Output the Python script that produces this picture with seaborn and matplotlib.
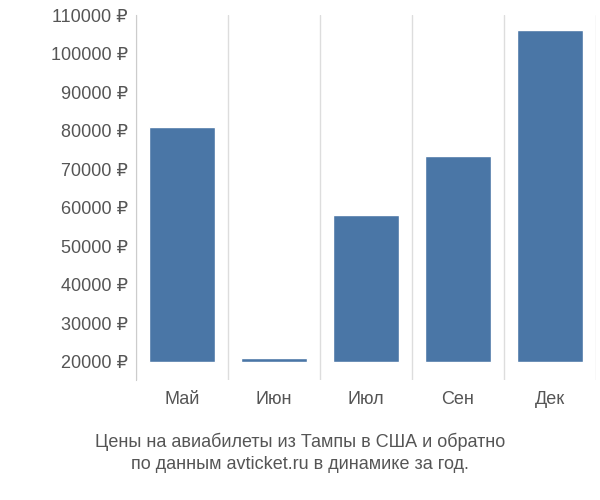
import matplotlib
matplotlib.use("Agg")
import matplotlib.pyplot as plt
import seaborn as sns
import numpy as np

months = ["Май", "Июн", "Июл", "Сен", "Дек"]
prices = [81000, 21000, 58000, 73300, 106000]
yticks = list(range(20000, 110001, 10000))
base = 20000

sns.set_style("white")
plt.rcParams['font.family'] = ['Liberation Sans', 'DejaVu Sans']

fig = plt.figure(figsize=(6, 5), dpi=100)
ax = fig.add_axes([0.227, 0.24, 0.766, 0.73])
heights = [p - base for p in prices]
sns.barplot(x=months, y=heights, bottom=base, color="#4a76a6", saturation=1, width=0.72, ax=ax)
ax.set_ylim(15300, 110000)
ax.set_xlim(-0.5, 4.5)
ax.set_yticks(yticks)
ax.set_yticklabels([f"{v} ₽" for v in yticks], fontsize=13, color="#555555")
ax.tick_params(axis='y', length=0, pad=6)
ax.set_xticks(range(5))
ax.set_xticklabels(months, fontsize=13, color="#555555")
ax.tick_params(axis='x', length=0, pad=8)
ax.set_xticks(np.arange(-0.5, 5, 1), minor=True)
ax.tick_params(axis='x', which='minor', length=6, color="#cccccc")
ax.grid(True, axis='x', which='minor', color="#dddddd", lw=1)
ax.set_axisbelow(True)
for s in ["top", "right", "bottom"]:
    ax.spines[s].set_visible(False)
ax.spines["left"].set_color("#cccccc")
fig.text(0.5, 0.095, "Цены на авиабилеты из Тампы в США и обратно\nпо данным avticket.ru в динамике за год.",
         ha="center", va="center", fontsize=13, color="#555555", linespacing=1.4)
fig.savefig("out.png", dpi=100)
